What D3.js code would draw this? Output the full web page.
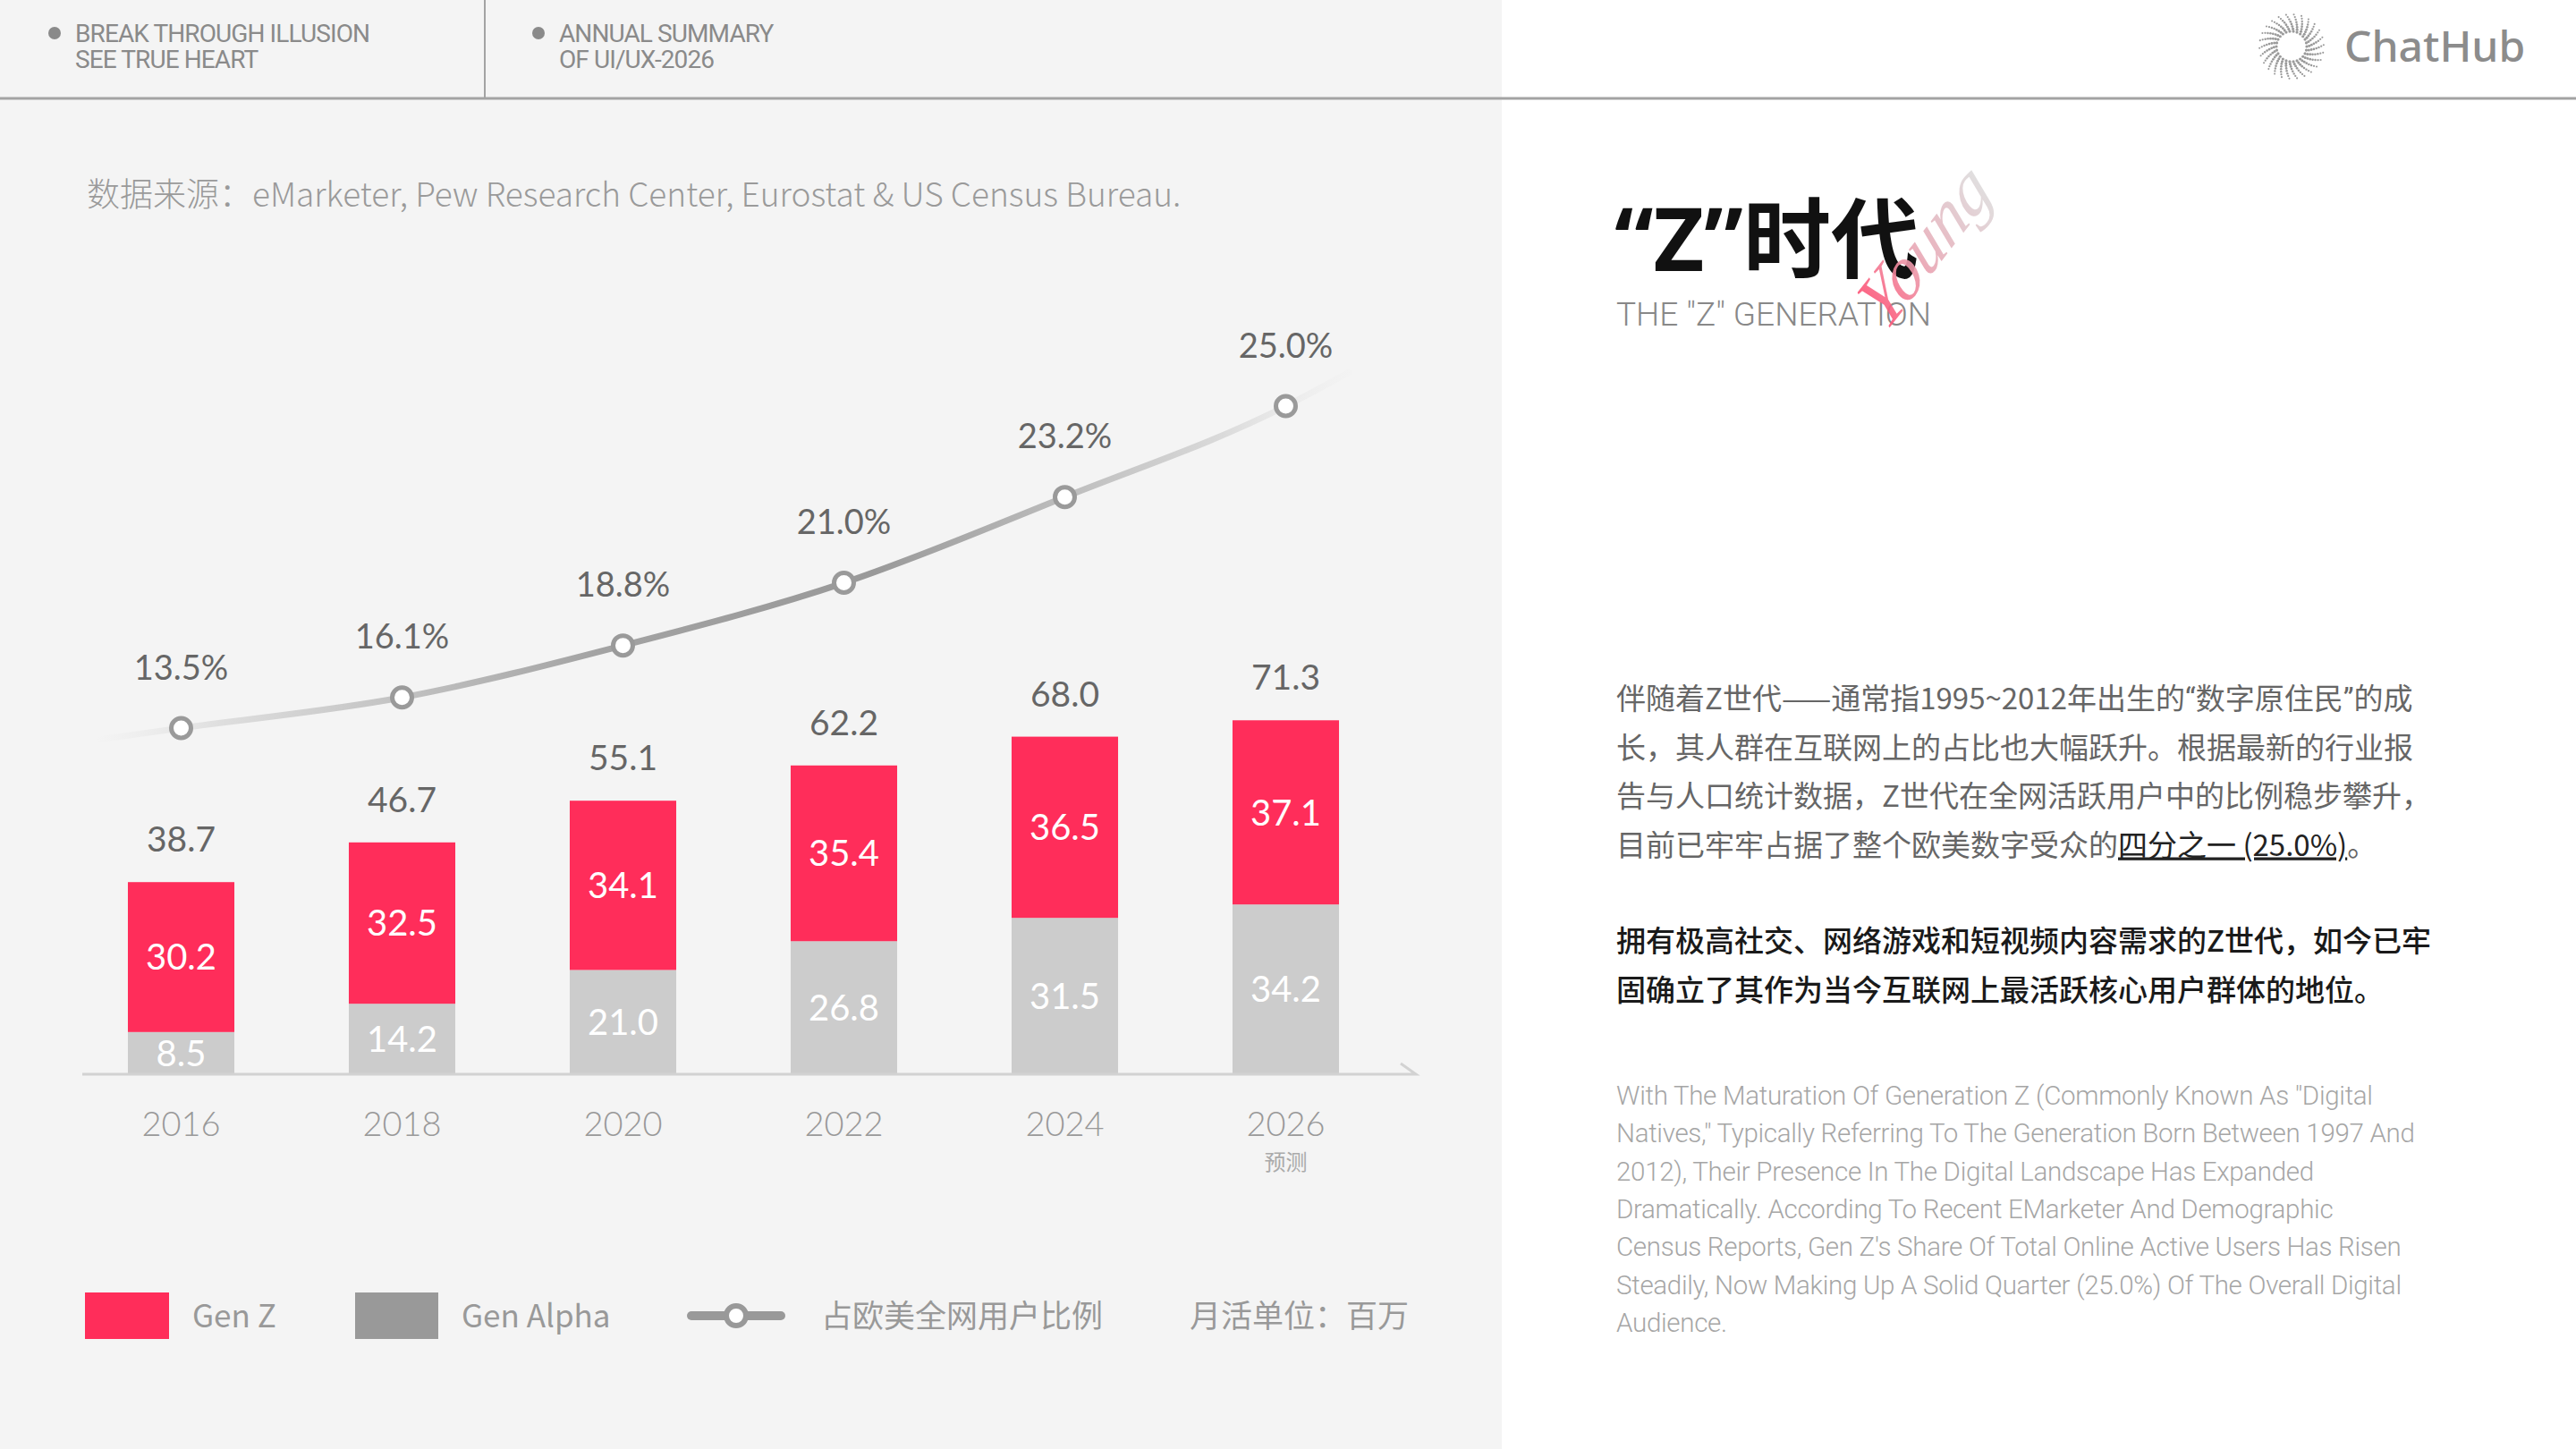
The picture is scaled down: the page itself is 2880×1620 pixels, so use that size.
<!DOCTYPE html>
<html>
<head>
<meta charset="utf-8">
<script src="https://cdn.jsdelivr.net/npm/d3@7"></script>
<style>
  html, body { margin: 0; padding: 0; background: #fff; }
  svg { display: block; }
</style>
</head>
<body>
<div id="page"></div>
<script>
// ---- data ----
const years = ["2016", "2018", "2020", "2022", "2024", "2026"];
const yearNotes = ["", "", "", "", "", "预测"];
const genZ = [30.2, 32.5, 34.1, 35.4, 36.5, 37.1];
const genAlpha = [8.5, 14.2, 21.0, 26.8, 31.5, 34.2];
const share = [13.5, 16.1, 18.8, 21.0, 23.2, 25.0];
const legendNames = ["Gen Z", "Gen Alpha", "占欧美全网用户比例", "月活单位：百万"];

const WD = 2880, HT = 1620
const LEFT_W = 1679
const PINK = "#ff2d5a", BAR_GREY = "#cccccc", DARK_GREY = "#999999"
const NUM_FONT = "Lato, 'Noto Sans', sans-serif"
const CJK_FONT = "'Noto Sans CJK SC', 'Noto Sans', sans-serif"

const svg = d3.select("#page").append("svg")
    .attr("width", WD)
    .attr("height", HT);

const defs = svg.append("defs");

// backgrounds
svg.append("rect").attr("width", WD).attr("height", HT).attr("fill", "#ffffff");
svg.append("rect").attr("width", LEFT_W).attr("height", HT).attr("fill", "#f4f4f4");

// ---- header ----
svg.append("line")
   .attr("x1", 0).attr("x2", WD).attr("y1", 110).attr("y2", 110)
   .attr("stroke", "#a3a3a3").attr("stroke-width", 3);
svg.append("line")
   .attr("x1", 542).attr("x2", 542).attr("y1", 0).attr("y2", 110)
   .attr("stroke", "#a3a3a3").attr("stroke-width", 2);

const headerBlocks = [
  { x: 61, lines: ["BREAK THROUGH ILLUSION", "SEE TRUE HEART"] },
  { x: 602, lines: ["ANNUAL SUMMARY", "OF UI/UX-2026"] }
];
headerBlocks.forEach(function(b) {
  svg.append("circle").attr("cx", b.x).attr("cy", 37).attr("r", 7).attr("fill", "#8a8a8a");
  b.lines.forEach(function(t, i) {
    svg.append("text")
       .attr("x", b.x + 23).attr("y", 47 + i * 29)
       .attr("font-family", "Roboto, sans-serif")
       .attr("font-size", 28)
       .attr("letter-spacing", -0.9)
       .attr("fill", "#8a8a8a")
       .text(t);
  });
});

// logo: dotted swirl + name
const logo = svg.append("g").attr("transform", "translate(2562,52)");
const dots = [];
for (let k = 0; k < 26; k++) {
  for (let j = 0; j < 8; j++) {
    const r = 17 + j * 2.7;
    const a = k * (2 * Math.PI / 26) + j * 0.2;
    dots.push({ x: r * Math.cos(a), y: r * Math.sin(a), s: 1.6 - j * 0.08 });
  }
}
logo.selectAll("circle").data(dots).enter().append("circle")
    .attr("cx", d => d.x).attr("cy", d => d.y).attr("r", d => d.s)
    .attr("fill", "#9a9a9a");
svg.append("text")
   .attr("x", 2621).attr("y", 69)
   .attr("font-family", "'Noto Sans', sans-serif")
   .attr("font-size", 48)
   .attr("font-weight", 500)
   .attr("fill", "#8c8c8c")
   .text("ChatHub");

// ---- source line ----
svg.append("text")
   .attr("x", 97).attr("y", 231)
   .attr("font-family", CJK_FONT)
   .attr("font-size", 37)
   .attr("font-weight", 300)
   .attr("fill", "#9a9a9a")
   .text("数据来源：eMarketer, Pew Research Center, Eurostat & US Census Bureau.");

// ---- chart ----
const BASE_Y = 1201

const x = d3.scaleBand()
    .domain(years)
    .range([79, 1561])
    .paddingInner(0.518)
    .paddingOuter(0.259);
const bw = x.bandwidth();

const y = d3.scaleLinear().domain([0, 80]).range([BASE_Y, BASE_Y - 80 * 5.55]);

// share line uses a power scale to follow the rising curve
const yShare = d3.scalePow().exponent(4)
    .domain(d3.extent(share))
    .range([814, 454]);

const rows = years.map(function(yr, i) {
  return { year: yr, note: yearNotes[i], alpha: genAlpha[i], z: genZ[i], share: share[i] };
});
const stack = d3.stack().keys(["alpha", "z"])(rows);

const g = svg.append("g").attr("class", "bars");
const segColors = { alpha: BAR_GREY, z: PINK };

stack.forEach(function(layer) {
  g.selectAll("rect." + layer.key)
   .data(layer)
   .enter()
   .append("rect")
     .attr("class", layer.key)
     .attr("x", d => x(d.data.year))
     .attr("y", d => y(d[1]))
     .attr("width", bw)
     .attr("height", d => y(d[0]) - y(d[1]))
     .attr("fill", segColors[layer.key]);

  g.selectAll("text." + layer.key)
   .data(layer)
   .enter()
   .append("text")
     .attr("class", layer.key)
     .attr("x", d => x(d.data.year) + bw / 2)
     .attr("y", d => (y(d[0]) + y(d[1])) / 2)
     .attr("dy", "0.36em")
     .attr("text-anchor", "middle")
     .attr("font-family", NUM_FONT)
     .attr("font-size", 40)
     .attr("fill", "#ffffff")
     .text(d => d3.format(".1f")(d[1] - d[0]));
});

// totals
g.selectAll("text.total")
 .data(rows)
 .enter()
 .append("text")
   .attr("class", "total")
   .attr("x", d => x(d.year) + bw / 2)
   .attr("y", d => y(d.alpha + d.z) - 48)
   .attr("dy", "0.36em")
   .attr("text-anchor", "middle")
   .attr("font-family", NUM_FONT)
   .attr("font-size", 39)
   .attr("fill", "#666666")
   .text(d => d3.format(".1f")(d.alpha + d.z));

// baseline with a small end flick
svg.append("path")
   .attr("d", "M92," + BASE_Y + "H1583l-17,-12")
   .attr("fill", "none")
   .attr("stroke", "#d2d2d2")
   .attr("stroke-width", 3);

// year labels
const xa = svg.append("g");
xa.selectAll("text.year")
  .data(rows)
  .enter()
  .append("text")
    .attr("class", "year")
    .attr("x", d => x(d.year) + bw / 2)
    .attr("y", 1256)
    .attr("dy", "0.36em")
    .attr("text-anchor", "middle")
    .attr("font-family", NUM_FONT)
    .attr("font-size", 38)
    .attr("font-weight", 300)
    .attr("fill", "#999999")
    .text(d => d.year);
xa.selectAll("text.note")
  .data(rows.filter(d => d.note))
  .enter()
  .append("text")
    .attr("class", "note")
    .attr("x", d => x(d.year) + bw / 2)
    .attr("y", 1299)
    .attr("dy", "0.36em")
    .attr("text-anchor", "middle")
    .attr("font-family", CJK_FONT)
    .attr("font-size", 24)
    .attr("fill", "#aaaaaa")
    .text(d => d.note);

// share line
const pts = rows.map(d => [x(d.year) + bw / 2, yShare(d.share)]);
const p0 = pts[0], p1 = pts[1], pn = pts[pts.length - 1], pm = pts[pts.length - 2];
const leftExt = 95, rightExt = 70;
const startPt = [p0[0] - leftExt, p0[1] + (p0[1] - p1[1]) / (p1[0] - p0[0]) * leftExt];
const endPt = [pn[0] + rightExt, pn[1] + (pn[1] - pm[1]) / (pn[0] - pm[0]) * rightExt * 1.3];
const linePts = [startPt].concat(pts, [endPt]);

const lg = defs.append("linearGradient")
   .attr("id", "shareGrad")
   .attr("gradientUnits", "userSpaceOnUse")
   .attr("x1", startPt[0]).attr("y1", 0)
   .attr("x2", endPt[0]).attr("y2", 0);
[[0, "#e6e6e6", 0], [0.1, "#dedede", 1], [0.4, "#a3a3a3", 1], [0.62, "#999999", 1],
 [0.9, "#dadada", 1], [1, "#eeeeee", 0.2]].forEach(function(s) {
  lg.append("stop").attr("offset", s[0]).attr("stop-color", s[1]).attr("stop-opacity", s[2]);
});

svg.append("path")
   .attr("d", d3.line().curve(d3.curveMonotoneX)(linePts))
   .attr("fill", "none")
   .attr("stroke", "url(#shareGrad)")
   .attr("stroke-width", 7)
   .attr("stroke-linecap", "round");

svg.selectAll("circle.pt")
   .data(rows)
   .enter()
   .append("circle")
     .attr("class", "pt")
     .attr("cx", d => x(d.year) + bw / 2)
     .attr("cy", d => yShare(d.share))
     .attr("r", 11)
     .attr("fill", "#ffffff")
     .attr("stroke", "#9a9a9a")
     .attr("stroke-width", 5);

svg.selectAll("text.pct")
   .data(rows)
   .enter()
   .append("text")
     .attr("class", "pct")
     .attr("x", d => x(d.year) + bw / 2)
     .attr("y", d => yShare(d.share) - 68)
     .attr("dy", "0.36em")
     .attr("text-anchor", "middle")
     .attr("font-family", NUM_FONT)
     .attr("font-size", 38)
     .attr("fill", "#666666")
     .text(d => d3.format(".1f")(d.share) + "%");

// ---- legend ----
const LEG_Y = 1471
const leg = svg.append("g");
leg.append("rect").attr("x", 95).attr("y", LEG_Y - 26).attr("width", 94).attr("height", 52).attr("fill", PINK);
leg.append("rect").attr("x", 397).attr("y", LEG_Y - 26).attr("width", 93).attr("height", 52).attr("fill", DARK_GREY);
leg.append("line").attr("x1", 773).attr("x2", 873).attr("y1", LEG_Y).attr("y2", LEG_Y)
   .attr("stroke", DARK_GREY).attr("stroke-width", 10).attr("stroke-linecap", "round");
leg.append("circle").attr("cx", 823).attr("cy", LEG_Y).attr("r", 11)
   .attr("fill", "#ffffff").attr("stroke", DARK_GREY).attr("stroke-width", 6);
[[215, legendNames[0]], [516, legendNames[1]], [918, legendNames[2]], [1330, legendNames[3]]].forEach(function(l) {
  leg.append("text")
     .attr("x", l[0]).attr("y", LEG_Y)
     .attr("dy", "0.36em")
     .attr("font-family", CJK_FONT)
     .attr("font-size", 35)
     .attr("fill", "#999999")
     .text(l[1]);
});

// ---- right side text ----
svg.append("text")
   .attr("x", 1805).attr("y", 303)
   .attr("font-family", "'Noto Sans', 'Noto Sans CJK SC', sans-serif")
   .attr("font-size", 98)
   .attr("font-weight", 700)
   .attr("fill", "#111111")
   .text("“Z”时代");

svg.append("text")
   .attr("x", 1807).attr("y", 364)
   .attr("font-family", "Roboto, sans-serif")
   .attr("font-size", 37)
   .attr("font-weight", 300)
   .attr("fill", "#888888")
   .text('THE "Z" GENERATION');

// handwritten "Young" accent
const yg = defs.append("linearGradient").attr("id", "youngGrad")
   .attr("x1", "0%").attr("y1", "0%").attr("x2", "100%").attr("y2", "0%");
yg.append("stop").attr("offset", 0).attr("stop-color", "#ff4d72");
yg.append("stop").attr("offset", 0.45).attr("stop-color", "#e8a9b6");
yg.append("stop").attr("offset", 1).attr("stop-color", "#dddddd");
svg.append("text")
   .attr("transform", "translate(2108,372) rotate(-52) skewX(-12)")
   .attr("font-family", "'Liberation Serif', serif")
   .attr("font-style", "italic")
   .attr("font-size", 80)
   .attr("fill", "url(#youngGrad)")
   .attr("opacity", 0.9)
   .text("Young");

// paragraph parts: [text, style]  style: 0 plain, 1 narrow quote, 2 underlined highlight
const para1 = [
  [["伴随着Z世代——通常指1995~2012年出生的", 0], ["“", 1], ["数字原住民", 0], ["”", 1], ["的成", 0]],
  [["长，其人群在互联网上的占比也大幅跃升。根据最新的行业报", 0]],
  [["告与人口统计数据，Z世代在全网活跃用户中的比例稳步攀升，", 0]],
  [["目前已牢牢占据了整个欧美数字受众的", 0], ["四分之一 (25.0%)", 2], ["。", 0]]
];
para1.forEach(function(parts, i) {
  const t = svg.append("text")
     .attr("x", 1807).attr("y", 793 + i * 54.5)
     .attr("font-family", CJK_FONT)
     .attr("font-size", 33)
     .attr("fill", "#666666");
  parts.forEach(function(p) {
    const ts = t.append("tspan").text(p[0]);
    if (p[1] === 1) ts.attr("font-family", "Roboto, sans-serif");
    if (p[1] === 2) ts.attr("fill", "#222222").style("text-decoration", "underline");
  });
});

const para2 = [
  "拥有极高社交、网络游戏和短视频内容需求的Z世代，如今已牢",
  "固确立了其作为当今互联网上最活跃核心用户群体的地位。"
];
para2.forEach(function(line, i) {
  svg.append("text")
     .attr("x", 1807).attr("y", 1064 + i * 54.5)
     .attr("font-family", CJK_FONT)
     .attr("font-size", 33)
     .attr("font-weight", 500)
     .attr("fill", "#1a1a1a")
     .text(line);
});

const para3 = [
  'With The Maturation Of Generation Z (Commonly Known As "Digital',
  'Natives," Typically Referring To The Generation Born Between 1997 And',
  '2012), Their Presence In The Digital Landscape Has Expanded',
  'Dramatically. According To Recent EMarketer And Demographic',
  "Census Reports, Gen Z's Share Of Total Online Active Users Has Risen",
  'Steadily, Now Making Up A Solid Quarter (25.0%) Of The Overall Digital',
  'Audience.'
];
para3.forEach(function(line, i) {
  svg.append("text")
     .attr("x", 1807).attr("y", 1235 + i * 42.3)
     .attr("font-family", "Roboto, sans-serif")
     .attr("font-size", 29.5)
     .attr("font-weight", 300)
     .attr("letter-spacing", -0.3)
     .attr("fill", "#a6a6a6")
     .text(line);
});
</script>
</body>
</html>
